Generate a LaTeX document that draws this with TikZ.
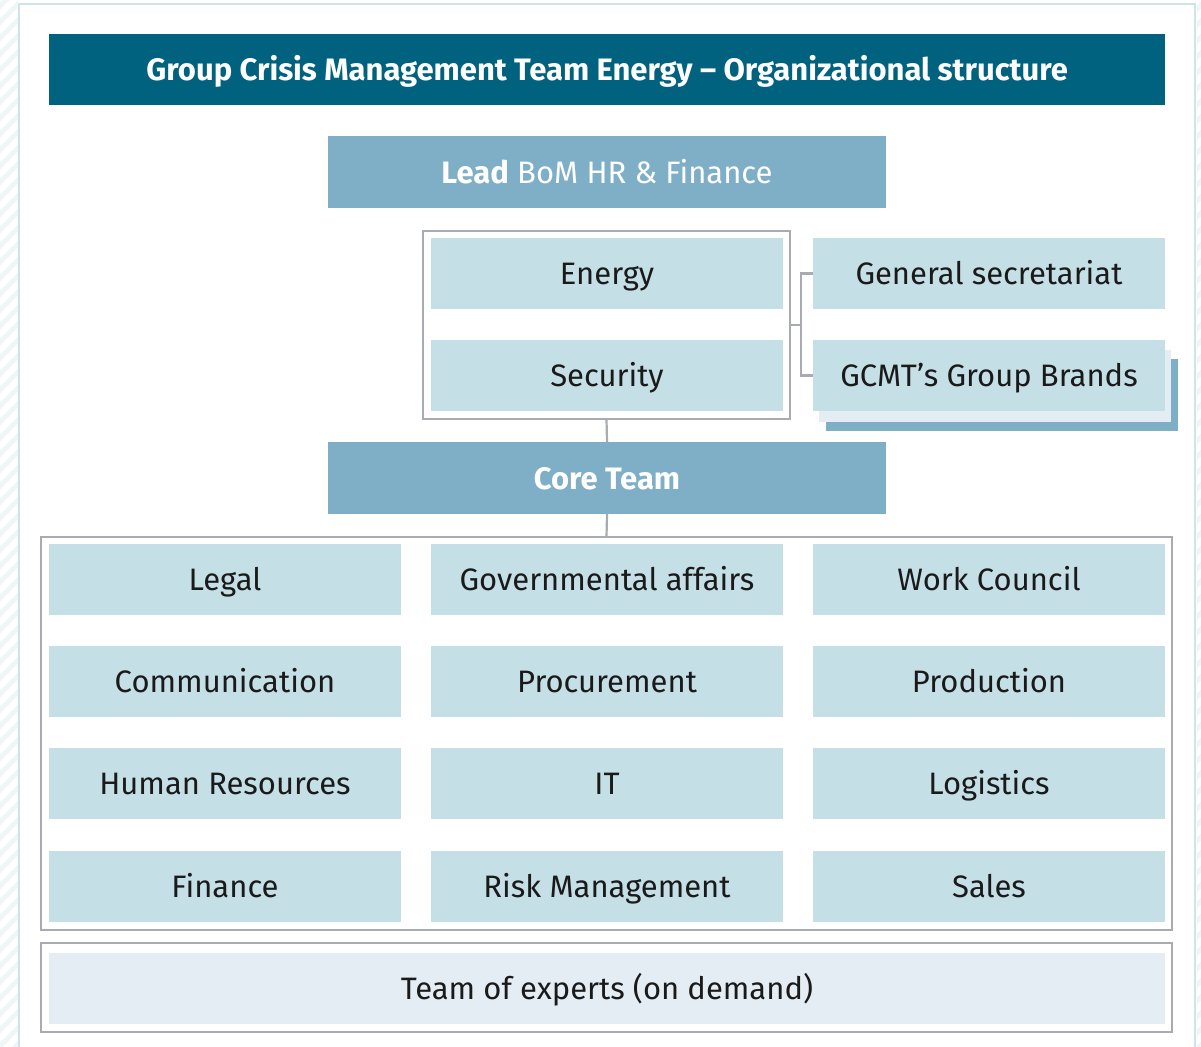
\documentclass[tikz,border=0pt]{standalone}
\usepackage{fontspec}
\setmainfont{Fira Sans}
\definecolor{titleblue}{HTML}{00627F}
\definecolor{midblue}{HTML}{7FAFC7}
\definecolor{lightblue}{HTML}{C5DFE6}
\definecolor{paleblue}{HTML}{E4EDF3}
\definecolor{framegray}{HTML}{A8ABB0}
\definecolor{outerline}{HTML}{CFE3EA}
\definecolor{hatch}{HTML}{F0F5F8}
\definecolor{txt}{HTML}{1A1A1A}
\tikzset{
  box/.style={fill=lightblue, text=txt, inner sep=0pt, outer sep=0pt,
    minimum width=352pt, minimum height=71pt, anchor=north west,
    text height=22pt, text depth=0pt,
    font=\fontsize{31}{36}\selectfont},
  headbox/.style={fill=midblue, text=white, inner sep=0pt, outer sep=0pt,
    minimum width=558pt, minimum height=72pt, anchor=north west,
    text height=22pt, text depth=0pt,
    font=\fontsize{31}{36}\selectfont},
  framebox/.style={draw=framegray, line width=2.4pt, inner sep=0pt, outer sep=0pt, anchor=north west},
  conn/.style={draw=framegray, line width=2.2pt},
}
\begin{document}
\begin{tikzpicture}[x=1pt,y=-1pt]
\useasboundingbox (0,0) rectangle (1201,1046);
% faint hatching outside the frame
\begin{scope}
\clip (0,0) rectangle (18,1046);
\foreach \k in {0,16,...,1100} {\draw[hatch, line width=5pt] (-10,\k) -- (40,\k-50);}
\end{scope}
\begin{scope}
\clip (1197,0) rectangle (1201,1046);
\foreach \k in {0,16,...,1100} {\draw[hatch, line width=5pt] (1190,\k) -- (1240,\k-50);}
\end{scope}
% outer frame
\draw[outerline, line width=2.2pt] (19,1050) -- (19,4) -- (1195,4) -- (1195,1050);
% title
\node[fill=titleblue, text=white, inner sep=0pt, minimum width=1116pt, minimum height=71pt, anchor=north west,
  text height=22pt, text depth=0pt,
  font=\bfseries\fontsize{31}{36}\selectfont] (title) at (49,34) {Group Crisis Management Team Energy – Organizational structure};
% lead
\node[headbox] (lead) at (328,136) {\textbf{Lead} BoM HR \& Finance};
% energy/security group
\node[framebox, minimum width=367pt, minimum height=188pt] (grp) at (423,231) {};
\node[box] (energy) at (431,238) {Energy};
\node[box] (security) at (431,340) {Security};
\node[box] (gensec) at (813,238) {General secretariat};
\fill[midblue] (826,359) rectangle (1178,431);
\fill[paleblue] (819,350) rectangle (1171,422);
\node[box] (brands) at (813,340) {GCMT’s Group Brands};
\coordinate (bk) at (801,325);
\draw[conn] (grp.east) -- (bk);
\draw[conn] (gensec.west) -| (bk) |- (brands.west);
% core team
\node[headbox, font=\bfseries\fontsize{31}{36}\selectfont] (core) at (328,442) {Core Team};
\draw[conn] (grp.south) -- (core.north);
% big frame
\node[framebox, minimum width=1131pt, minimum height=393pt] (big) at (41,537) {};
\draw[conn] (core.south) -- (big.north);
\node[box] (legal) at (49,544) {Legal};
\node[box] (gov) at (431,544) {Governmental affairs};
\node[box] (wc) at (813,544) {Work Council};
\node[box] (comm) at (49,646) {Communication};
\node[box] (proc) at (431,646) {Procurement};
\node[box] (prod) at (813,646) {Production};
\node[box] (hr) at (49,748) {Human Resources};
\node[box] (it) at (431,748) {IT};
\node[box] (log) at (813,748) {Logistics};
\node[box] (fin) at (49,851) {Finance};
\node[box] (risk) at (431,851) {Risk Management};
\node[box] (sales) at (813,851) {Sales};
% experts
\node[framebox, minimum width=1131pt, minimum height=89pt] (expf) at (41,943) {};
\node[box, fill=paleblue, minimum width=1116pt] (experts) at (49,953) {Team of experts (on demand)};
\end{tikzpicture}
\end{document}
